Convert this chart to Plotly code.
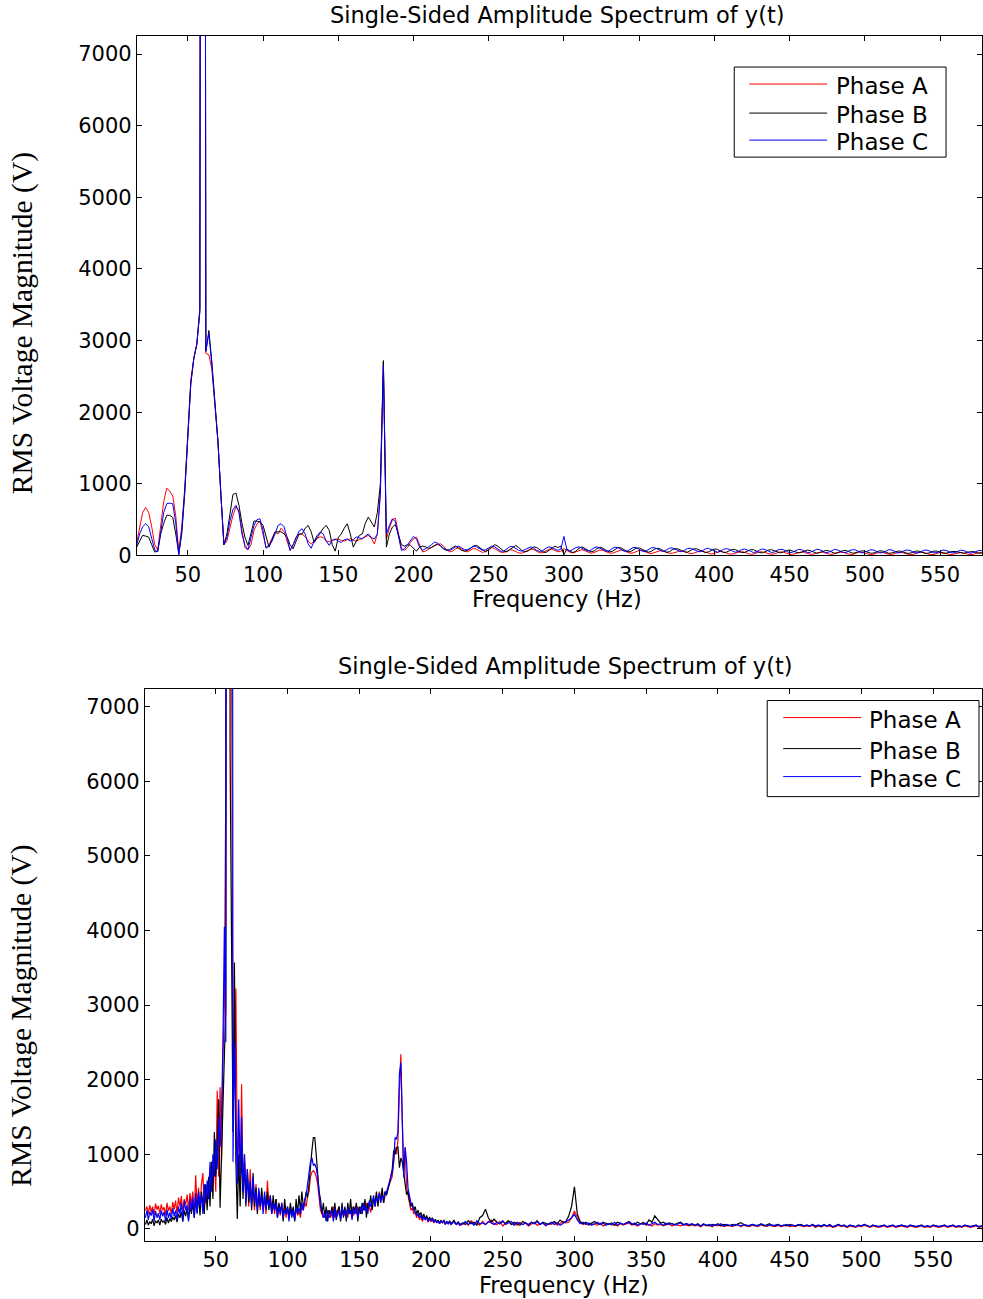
import plotly.graph_objects as go

W, H = 983, 1299

# ---------------- top panel data (2 Hz bins, 16..578 Hz) ----------------
freq_top = list(range(16, 579, 2))

top_phase_a = [
    170, 400, 600, 670, 600, 400, 150, 80, 450, 750,
    940, 900, 830, 550, 60, 400, 950, 1750, 2450, 2750,
    2950, 3400, 40000, 2820, 2800, 2600, 2150, 1600, 850, 150,
    200, 400, 560, 680, 620, 350, 110, 80, 150, 350,
    440, 480, 300, 110, 150, 250, 330, 300, 380, 330,
    200, 70, 150, 260, 290, 300, 260, 200, 160, 200,
    240, 260, 250, 200, 190, 210, 220, 230, 210, 200,
    220, 230, 210, 200, 220, 240, 250, 280, 240, 160,
    300, 900, 2700, 230, 380, 500, 520, 300, 100, 70,
    110, 180, 230, 256, 150, 50, 60, 90, 120, 140,
    150, 163, 130, 80, 50, 60, 90, 110, 90, 60,
    50, 80, 100, 85, 60, 40, 60, 90, 110, 95,
    70, 45, 40, 60, 80, 75, 55, 35, 30, 50,
    75, 90, 80, 55, 35, 40, 65, 85, 90, 70,
    50, 60, 95, 70, 45, 35, 50, 70, 80, 65,
    45, 30, 40, 60, 75, 70, 50, 35, 30, 45,
    65, 75, 65, 45, 30, 35, 55, 70, 70, 50,
    35, 25, 35, 55, 65, 60, 45, 30, 30, 45,
    60, 65, 55, 40, 25, 30, 45, 60, 60, 45,
    30, 20, 30, 45, 55, 50, 35, 20, 20, 35,
    50, 55, 45, 30, 15, 20, 35, 50, 50, 40,
    25, 15, 25, 40, 50, 45, 30, 15, 15, 30,
    45, 50, 40, 25, 15, 20, 35, 45, 45, 30,
    20, 15, 25, 40, 45, 40, 25, 15, 15, 30,
    45, 45, 35, 20, 10, 20, 35, 45, 40, 25,
    15, 15, 30, 40, 45, 35, 20, 10, 15, 30,
    40, 45, 35, 20, 10, 15, 30, 40, 40, 25,
    15, 15, 25, 40, 40, 30, 15, 10, 15, 30, 40, 35,
]

top_phase_b = [
    116, 200, 280, 270, 256, 150, 47, 60, 300, 450,
    560, 560, 530, 300, 25, 300, 880, 1650, 2400, 2750,
    2950, 3450, 40000, 2850, 3140, 2700, 2200, 1600, 850, 150,
    300, 600, 850, 870, 700, 450, 250, 140, 320, 480,
    480, 466, 420, 250, 116, 220, 326, 330, 330, 300,
    260, 150, 93, 200, 300, 300, 380, 419, 330, 180,
    250, 300, 380, 419, 350, 150, 60, 250, 300, 380,
    442, 300, 116, 200, 280, 300, 450, 535, 470, 396,
    600, 1000, 2720, 116, 300, 396, 430, 300, 150, 130,
    150, 140, 100, 60, 116, 130, 120, 100, 110, 130,
    160, 130, 90, 70, 80, 110, 130, 100, 70, 60,
    70, 100, 130, 140, 110, 70, 50, 80, 120, 150,
    130, 90, 60, 50, 80, 120, 140, 110, 70, 50,
    60, 90, 120, 110, 80, 50, 40, 70, 110, 130,
    110, 130, 10, 90, 60, 40, 60, 100, 120, 100,
    70, 50, 60, 95, 115, 100, 70, 50, 55, 85,
    110, 105, 80, 55, 50, 70, 100, 105, 85, 60,
    45, 55, 85, 100, 90, 65, 45, 50, 80, 95,
    90, 70, 50, 45, 65, 90, 95, 80, 55, 40,
    50, 75, 90, 85, 60, 40, 45, 70, 85, 80,
    60, 40, 40, 60, 80, 80, 60, 40, 35, 55,
    75, 80, 65, 45, 35, 50, 70, 75, 65, 45,
    35, 45, 65, 75, 65, 45, 30, 40, 60, 70,
    65, 45, 30, 40, 60, 70, 65, 45, 30, 40,
    55, 65, 60, 45, 30, 35, 55, 65, 60, 45,
    30, 35, 50, 60, 60, 45, 30, 30, 50, 60,
    60, 45, 30, 30, 45, 60, 60, 45, 30, 30,
    45, 55, 55, 45, 30, 30, 45, 55, 55, 40, 30, 35,
]

top_phase_c = [
    140, 300, 400, 442, 400, 250, 80, 50, 350, 600,
    722, 730, 720, 450, 0, 350, 900, 1700, 2400, 2750,
    2950, 3400, 40000, 2850, 3100, 2650, 2150, 1600, 850, 150,
    250, 480, 640, 700, 600, 300, 140, 80, 250, 420,
    500, 512, 350, 100, 130, 200, 300, 420, 442, 400,
    250, 70, 150, 250, 340, 373, 300, 160, 100, 200,
    280, 326, 300, 200, 140, 210, 230, 200, 180, 220,
    230, 200, 220, 260, 250, 230, 270, 300, 250, 230,
    300, 850, 2650, 300, 420, 512, 470, 250, 70, 90,
    150, 200, 266, 230, 120, 70, 90, 120, 150, 186,
    170, 130, 100, 80, 70, 90, 120, 130, 100, 80,
    80, 110, 130, 120, 90, 70, 80, 110, 130, 120,
    90, 60, 60, 90, 120, 125, 100, 70, 60, 80,
    110, 120, 100, 70, 55, 70, 100, 120, 110, 85,
    70, 90, 266, 80, 60, 85, 110, 120, 100, 75,
    60, 75, 105, 120, 105, 80, 60, 65, 95, 115,
    110, 85, 60, 60, 90, 110, 110, 85, 60, 55,
    80, 105, 110, 90, 65, 55, 75, 100, 105, 90,
    65, 50, 70, 95, 100, 85, 60, 50, 65, 90,
    100, 85, 60, 45, 60, 85, 95, 85, 60, 45,
    55, 80, 90, 80, 60, 40, 50, 75, 90, 80,
    55, 40, 50, 75, 85, 80, 55, 40, 45, 70,
    85, 80, 55, 40, 45, 70, 85, 80, 55, 40,
    45, 70, 85, 75, 55, 40, 45, 70, 80, 75,
    55, 35, 45, 65, 80, 75, 50, 35, 40, 65,
    80, 75, 50, 35, 40, 65, 75, 70, 50, 35,
    40, 60, 75, 70, 50, 35, 40, 60, 75, 70,
    50, 35, 40, 60, 75, 65, 45, 30, 40, 60, 70, 65,
]

# ---------------- bottom panel data (1 Hz bins to 220 Hz, then 2 Hz) ----------------
freq_bot = list(range(1, 221)) + list(range(222, 585, 2))

bot_phase_a = [
    250, 300, 200, 320, 230, 300, 180, 340, 260, 310,
    200, 330, 250, 290, 180, 350, 240, 300, 200, 360,
    260, 380, 200, 420, 300, 440, 220, 400, 320, 460,
    250, 480, 330, 500, 200, 720, 300, 550, 250, 600,
    750, 300, 500, 350, 600, 400, 850, 600, 1000, 500,
    1850, 700, 1900, 900, 2300, 3000, 6000, 30000, 45000, 25000,
    8000, 1500, 2000, 3220, 900, 1300, 600, 1940, 500, 1000,
    400, 700, 300, 800, 350, 550, 250, 600, 300, 450,
    250, 500, 300, 400, 200, 650, 300, 450, 250, 350,
    200, 400, 250, 300, 180, 350, 200, 300, 150, 280,
    150, 300, 200, 250, 120, 280, 180, 240, 150, 300,
    250, 350, 300, 450, 500, 700, 760, 780, 760, 700,
    600, 400, 250, 200, 150, 250, 120, 200, 250, 150,
    200, 300, 150, 250, 180, 300, 150, 200, 250, 180,
    250, 150, 280, 200, 300, 180, 250, 200, 300, 220,
    280, 200, 320, 250, 350, 280, 300, 220, 350, 400,
    300, 450, 350, 500, 400, 480, 350, 450, 500, 558,
    600, 648, 700, 900, 1094, 1000, 1200, 1850, 2342, 1448,
    733, 1094, 558, 450, 350, 250, 280, 200, 230, 150,
    200, 120, 180, 100, 160, 120, 150, 90, 130, 100,
    120, 80, 110, 90, 100, 70, 120, 80, 100, 60,
    90, 70, 100, 60, 80, 110, 70, 60, 90, 50,
    60, 90, 50, 110, 70, 80, 50, 100, 60, 90,
    120, 70, 60, 100, 40, 80, 110, 60, 70, 50,
    90, 60, 80, 40, 70, 90, 50, 60, 80, 40,
    70, 60, 90, 50, 70, 100, 80, 90, 150, 241,
    150, 90, 60, 80, 50, 70, 60, 50, 80, 40,
    60, 70, 50, 60, 40, 70, 50, 60, 80, 50,
    60, 40, 70, 90, 50, 60, 40, 70, 50, 60,
    40, 50, 70, 40, 60, 50, 40, 60, 50, 40,
    60, 40, 50, 30, 60, 40, 50, 30, 50, 40,
    60, 30, 40, 50, 30, 40, 60, 30, 50, 40,
    30, 50, 40, 30, 60, 40, 30, 50, 40, 30,
    50, 30, 40, 50, 30, 40, 30, 50, 40, 30,
    40, 30, 50, 20, 40, 30, 50, 30, 40, 20,
    30, 50, 30, 40, 20, 40, 30, 20, 40, 30,
    50, 30, 20, 40, 30, 20, 30, 40, 20, 30,
    40, 20, 30, 40, 30, 20, 40, 30, 20, 30,
    40, 20, 30, 20, 40, 30, 20, 30, 40, 20,
    30, 40, 20, 30, 20, 40, 30, 20, 30, 40, 20, 30,
]

bot_phase_b = [
    60, 120, 50, 100, 70, 130, 40, 110, 80, 120,
    50, 130, 90, 110, 60, 150, 80, 140, 100, 160,
    120, 180, 90, 200, 150, 230, 100, 250, 170, 280,
    120, 300, 200, 350, 150, 400, 220, 450, 180, 500,
    350, 200, 600, 250, 700, 300, 900, 400, 1300, 700,
    1100, 1738, 285, 1000, 1500, 2500, 3000, 35000, 30000, 6340,
    3000, 1300, 3570, 900, 134, 1000, 300, 1100, 400, 900,
    300, 800, 350, 600, 250, 750, 300, 550, 200, 500,
    300, 550, 250, 450, 300, 500, 250, 400, 200, 450,
    250, 400, 150, 350, 250, 300, 100, 400, 200, 300,
    150, 350, 200, 300, 100, 400, 200, 450, 250, 500,
    300, 350, 500, 420, 600, 900, 1050, 1225, 1225, 1000,
    750, 500, 400, 200, 350, 150, 300, 100, 250, 200,
    300, 150, 350, 120, 250, 300, 100, 350, 150, 300,
    100, 350, 200, 400, 150, 300, 250, 350, 100, 300,
    200, 350, 250, 400, 150, 350, 300, 450, 250, 400,
    350, 500, 300, 450, 400, 550, 350, 500, 450, 510,
    600, 700, 800, 1050, 1000, 1090, 1100, 822, 950, 900,
    700, 600, 460, 500, 380, 300, 350, 250, 300, 200,
    250, 180, 220, 150, 200, 130, 180, 110, 160, 120,
    150, 100, 130, 90, 120, 80, 110, 90, 120, 70,
    100, 80, 110, 70, 90, 120, 80, 70, 100, 60,
    80, 60, 110, 70, 90, 50, 150, 180, 264, 150,
    90, 130, 90, 70, 100, 70, 110, 60, 90, 70,
    50, 100, 80, 60, 90, 70, 110, 60, 90, 70,
    60, 80, 100, 70, 120, 90, 100, 174, 300, 563,
    200, 100, 70, 90, 60, 80, 100, 70, 60, 90,
    70, 60, 80, 50, 90, 70, 60, 80, 100, 70,
    60, 90, 70, 80, 60, 120, 90, 174, 120, 80,
    90, 60, 80, 70, 60, 80, 90, 60, 70, 50,
    60, 50, 70, 40, 60, 50, 40, 60, 50, 70,
    40, 60, 50, 40, 60, 50, 70, 85, 60, 40,
    50, 60, 40, 50, 60, 40, 50, 70, 40, 50,
    60, 40, 50, 40, 60, 50, 40, 50, 60, 40,
    50, 40, 60, 40, 50, 30, 50, 40, 60, 30,
    40, 60, 40, 50, 30, 50, 40, 30, 50, 40,
    60, 40, 30, 50, 40, 30, 40, 50, 30, 40,
    50, 30, 40, 50, 40, 30, 50, 40, 30, 40,
    50, 30, 40, 30, 50, 40, 30, 40, 50, 30,
    40, 50, 30, 40, 30, 50, 40, 30, 40, 50, 30, 40,
]

bot_phase_c = [
    150, 250, 120, 230, 180, 260, 100, 240, 150, 210,
    120, 250, 170, 230, 100, 260, 150, 220, 130, 280,
    170, 250, 120, 300, 200, 350, 100, 380, 250, 320,
    100, 400, 250, 420, 150, 480, 200, 500, 300, 450,
    200, 600, 350, 650, 400, 900, 500, 1000, 700, 1200,
    800, 1500, 1100, 1538, 2500, 4050, 2500, 40000, 45000, 40000,
    30000, 900, 2500, 1700, 600, 1738, 700, 1500, 500, 1000,
    350, 800, 400, 650, 300, 700, 350, 500, 250, 550,
    300, 450, 200, 500, 250, 400, 300, 450, 200, 350,
    250, 350, 150, 300, 200, 350, 150, 250, 200, 300,
    100, 280, 150, 250, 120, 300, 200, 280, 200, 350,
    250, 400, 450, 600, 750, 900, 956, 850, 870, 820,
    700, 500, 300, 250, 150, 200, 100, 250, 150, 200,
    250, 100, 280, 150, 200, 250, 120, 300, 180, 250,
    150, 300, 200, 250, 120, 280, 200, 300, 150, 250,
    300, 200, 350, 250, 300, 200, 380, 300, 350, 450,
    300, 420, 380, 480, 350, 450, 400, 500, 480, 560,
    650, 700, 750, 900, 1228, 1200, 1300, 2074, 2230, 1404,
    688, 1094, 900, 550, 440, 350, 300, 250, 220, 180,
    200, 150, 180, 120, 160, 130, 150, 100, 140, 110,
    130, 90, 120, 80, 110, 70, 100, 90, 110, 60,
    100, 70, 90, 60, 80, 100, 70, 60, 90, 50,
    70, 100, 60, 90, 50, 110, 70, 80, 60, 100,
    80, 60, 90, 70, 110, 60, 80, 100, 50, 90,
    70, 60, 80, 50, 90, 70, 100, 60, 80, 50,
    70, 90, 60, 80, 50, 70, 90, 120, 150, 196,
    120, 70, 90, 60, 80, 50, 70, 90, 60, 80,
    50, 70, 60, 90, 50, 80, 60, 70, 90, 60,
    80, 50, 70, 60, 80, 50, 70, 90, 60, 70,
    50, 80, 60, 70, 50, 60, 80, 50, 70, 60,
    70, 50, 60, 40, 70, 50, 60, 40, 60, 50,
    70, 40, 60, 50, 40, 60, 50, 40, 60, 50,
    40, 60, 50, 40, 70, 50, 40, 60, 50, 40,
    60, 40, 50, 60, 40, 50, 40, 60, 50, 40,
    50, 40, 60, 30, 50, 40, 60, 40, 50, 30,
    40, 60, 40, 50, 30, 50, 40, 30, 50, 40,
    60, 40, 30, 50, 40, 30, 40, 50, 30, 40,
    50, 30, 40, 50, 40, 30, 50, 40, 30, 40,
    50, 30, 40, 30, 50, 40, 30, 40, 50, 30,
    40, 50, 30, 40, 30, 50, 40, 30, 40, 50, 30, 40,
]

series_names = ["Phase A", "Phase B", "Phase C"]
series_colors = ["#ff0000", "#000000", "#0000ff"]
x_ticks = [50, 100, 150, 200, 250, 300, 350, 400, 450, 500, 550]
y_ticks = [0, 1000, 2000, 3000, 4000, 5000, 6000, 7000]
title_text = "Single-Sided Amplitude Spectrum of y(t)"
x_title = "Frequency (Hz)"
y_title = "RMS Voltage Magnitude (V)"

for arr in (top_phase_a, top_phase_b, top_phase_c):
    assert len(arr) == len(freq_top), (len(arr), len(freq_top))
for arr in (bot_phase_a, bot_phase_b, bot_phase_c):
    assert len(arr) == len(freq_bot), (len(arr), len(freq_bot))

# the photographed page comes out ~1% shorter vertically; compensate
VSCALE = 1 / 0.99


def px(x):
    return x / W


def py(y):
    return 1 - (y * VSCALE) / H


fig = go.Figure()
for vals, name, col in zip((top_phase_a, top_phase_b, top_phase_c), series_names, series_colors):
    fig.add_trace(go.Scatter(x=freq_top, y=vals, mode="lines", name=name,
                             line=dict(color=col, width=1), xaxis="x", yaxis="y",
                             showlegend=False))
for vals, name, col in zip((bot_phase_a, bot_phase_b, bot_phase_c), series_names, series_colors):
    fig.add_trace(go.Scatter(x=freq_bot, y=vals, mode="lines", name=name,
                             line=dict(color=col, width=1.2), xaxis="x2", yaxis="y2",
                             showlegend=False))

sans = "DejaVu Sans"
axis_common = dict(showgrid=False, zeroline=False, showline=True, linecolor="black",
                   linewidth=1, ticks="inside", ticklen=5,
                   tickcolor="black", tickfont=dict(family=sans, size=21, color="black"))

fig.update_layout(
    width=W, height=H, margin=dict(l=0, r=0, t=0, b=0),
    paper_bgcolor="white", plot_bgcolor="white", showlegend=False,
    xaxis=dict(domain=[px(137), 1], range=[16.14, 577.9], tickvals=x_ticks,
               anchor="y", mirror="ticks", **axis_common),
    yaxis=dict(domain=[py(555), py(36)], range=[0, 7251], tickvals=y_ticks,
               anchor="x", mirror="ticks", **axis_common),
    xaxis2=dict(domain=[px(145), 1], range=[0.56, 584.1], tickvals=x_ticks,
                anchor="y2", mirror="ticks", **axis_common),
    yaxis2=dict(domain=[py(1240), py(688)], range=[-161, 7241], tickvals=y_ticks,
                anchor="x2", mirror="ticks", **axis_common),
)

ann = []
shapes = []
for (tx, ty), (lx, ly), (yx, yy) in [((558, 15), (558, 599), (22, 323)),
                                     ((566, 665), (565, 1284), (22, 1015))]:
    ann.append(dict(text=title_text, x=px(tx), y=py(ty), xref="paper", yref="paper",
                    showarrow=False, font=dict(family=sans, size=22.5, color="black"),
                    xanchor="center", yanchor="middle"))
    ann.append(dict(text=x_title, x=px(lx), y=py(ly), xref="paper", yref="paper",
                    showarrow=False, font=dict(family=sans, size=22.5, color="black"),
                    xanchor="center", yanchor="middle"))
    ann.append(dict(text=y_title, x=px(yx), y=py(yy), xref="paper", yref="paper",
                    showarrow=False, textangle=-90,
                    font=dict(family="Liberation Serif", size=29.5, color="black"),
                    xanchor="center", yanchor="middle"))

# legend boxes (box, line start/end, row y, text x)
legends = [
    dict(box=(735, 67, 947, 157), l0=750, l1=828, rows=[84, 113, 140], tx=835),
    dict(box=(768, 700, 980, 796), l0=784, l1=862, rows=[717, 748, 776], tx=868),
]
for lg in legends:
    x0, y0, x1, y1 = lg["box"]
    shapes.append(dict(type="rect", xref="paper", yref="paper", x0=px(x0), x1=px(x1),
                       y0=py(y1), y1=py(y0), line=dict(color="black", width=1),
                       fillcolor="white", layer="above"))
    for ry, name, col in zip(lg["rows"], series_names, series_colors):
        shapes.append(dict(type="line", xref="paper", yref="paper", x0=px(lg["l0"]),
                           x1=px(lg["l1"]), y0=py(ry), y1=py(ry),
                           line=dict(color=col, width=1), layer="above"))
        ann.append(dict(text=name, x=px(lg["tx"]), y=py(ry + 2), xref="paper", yref="paper",
                        showarrow=False, font=dict(family=sans, size=23, color="black"),
                        xanchor="left", yanchor="middle"))

fig.update_layout(annotations=ann, shapes=shapes)
fig.write_html("out.html")
